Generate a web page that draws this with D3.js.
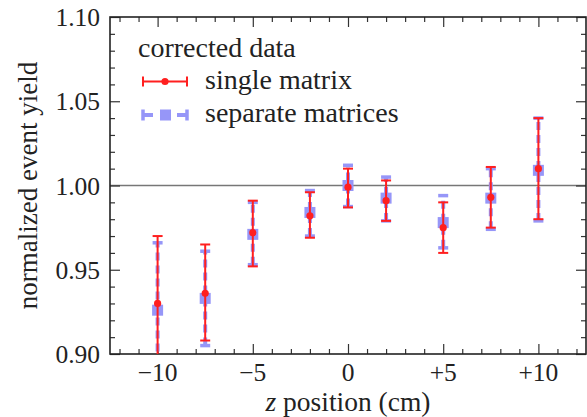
<html>
  <head>
    <script src="https://d3js.org/d3.v7.min.js"></script>
  </head>
  <body style="margin:0">
    <svg id="chart" width="587" height="417"></svg>
    <script>
      // data
      const zPos = [-10, -7.5, -5, -2, 0, 2, 5, 7.5, 10];
      const singleY  = [0.930, 0.936, 0.972, 0.982, 0.999, 0.991, 0.975, 0.993, 1.010];
      const singleLo = [0.888, 0.908, 0.952, 0.969, 0.987, 0.979, 0.960, 0.975, 0.980];
      const singleHi = [0.970, 0.965, 0.991, 0.996, 1.010, 1.003, 0.990, 1.011, 1.040];
      const sepY  = [0.926, 0.933, 0.971, 0.984, 1.000, 0.9925, 0.978, 0.9925, 1.009];
      const sepLo = [0.886, 0.905, 0.953, 0.970, 0.9875, 0.979, 0.963, 0.974, 0.979];
      const sepHi = [0.966, 0.961, 0.990, 0.997, 1.012, 1.005, 0.994, 1.010, 1.040];
      const xTicks = [-10, -5, 0, 5, 10];
      const xTickLabels = ['\u221210', '\u22125', '0', '+5', '+10'];
      const yTicks = [0.90, 0.95, 1.00, 1.05, 1.10];
      const yTickLabels = ['0.90', '0.95', '1.00', '1.05', '1.10'];
      const legendTitle = 'corrected data';
      const seriesNames = ['single matrix', 'separate matrices'];

      const svg = d3.select('svg#chart');
      const margins = {top: 17, right: 1, bottom: 63, left: 110};
      const width = +svg.attr('width');
      const height = +svg.attr('height');
      const chartWidth = width - margins.left - margins.right;
      const chartHeight = height - margins.top - margins.bottom;
      const font = 'Liberation Serif, DejaVu Serif, Times New Roman, serif';
      const red = '#ff1f1f';
      const blue = '#9696f8';

      svg.attr('font-family', font).attr('fill', '#222');

      const xScale = d3.scaleLinear().domain([-12.5, 12.5]).range([0, chartWidth]);
      const yScale = d3.scaleLinear().domain([0.90, 1.10]).range([chartHeight, 0]);

      let chartArea = svg.append('g')
        .attr('transform', `translate(${margins.left},${margins.top})`);

      svg.append('defs').append('clipPath').attr('id', 'clip')
        .append('rect').attr('width', chartWidth).attr('height', chartHeight);

      // reference line at 1
      chartArea.append('line')
        .attr('x1', 0).attr('x2', chartWidth)
        .attr('y1', yScale(1)).attr('y2', yScale(1))
        .attr('stroke', '#777').attr('stroke-width', 1.6);

      // ticks on all four sides, pointing in
      const minorX = d3.range(-12, 13, 1).filter(v => v % 5 !== 0);
      const minorY = d3.range(90, 111, 1).filter(v => v % 5 !== 0).map(v => v / 100);
      const tickAxes = [
        [d3.axisBottom(xScale).tickValues(xTicks).tickSize(-10), `translate(0,${chartHeight})`],
        [d3.axisBottom(xScale).tickValues(minorX).tickSize(-5), `translate(0,${chartHeight})`],
        [d3.axisTop(xScale).tickValues(xTicks).tickSize(-10), 'translate(0,0)'],
        [d3.axisTop(xScale).tickValues(minorX).tickSize(-5), 'translate(0,0)'],
        [d3.axisLeft(yScale).tickValues(yTicks).tickSize(-10), 'translate(0,0)'],
        [d3.axisLeft(yScale).tickValues(minorY).tickSize(-5), 'translate(0,0)'],
        [d3.axisRight(yScale).tickValues(yTicks).tickSize(-10), `translate(${chartWidth},0)`],
        [d3.axisRight(yScale).tickValues(minorY).tickSize(-5), `translate(${chartWidth},0)`]
      ];
      tickAxes.forEach(([ax, tr]) => {
        let g = chartArea.append('g').attr('class', 'ticks').attr('transform', tr)
          .call(ax.tickFormat(''));
        g.select('.domain').remove();
        g.selectAll('line').attr('stroke', '#333').attr('stroke-width', 1.2);
      });

      // tick labels
      xTicks.forEach((v, i) => {
        chartArea.append('text')
          .attr('x', xScale(v)).attr('y', chartHeight + 27)
          .attr('text-anchor', 'middle')
          .attr('font-family', font).attr('font-size', 25.5).attr('fill', '#222')
          .text(xTickLabels[i]);
      });
      yTicks.forEach((v, i) => {
        chartArea.append('text')
          .attr('x', -10).attr('y', yScale(v) + 9)
          .attr('text-anchor', 'end')
          .attr('font-family', font).attr('font-size', 25.5).attr('fill', '#222')
          .text(yTickLabels[i]);
      });

      // frame
      chartArea.append('rect')
        .attr('width', chartWidth).attr('height', chartHeight)
        .attr('fill', 'none').attr('stroke', '#222').attr('stroke-width', 1.6);

      // axis titles
      let xTitle = svg.append('text')
        .attr('x', margins.left + xScale(0)).attr('y', 411)
        .attr('text-anchor', 'middle')
        .attr('font-family', font).attr('font-size', 27.5).attr('fill', '#222');
      xTitle.append('tspan').attr('font-style', 'italic').text('z');
      xTitle.append('tspan').text(' position (cm)');

      svg.append('text')
        .attr('transform', `translate(37,${margins.top + yScale(1)}) rotate(-90)`)
        .attr('text-anchor', 'middle')
        .attr('font-family', font).attr('font-size', 27).attr('fill', '#222')
        .text('normalized event yield');

      // error bars
      let plot = chartArea.append('g').attr('clip-path', 'url(#clip)');
      const capW = 5;

      // separate matrices (blue, dashed)
      zPos.forEach((z, i) => {
        let x = xScale(z);
        plot.append('line')
          .attr('x1', x).attr('x2', x)
          .attr('y1', yScale(sepLo[i])).attr('y2', yScale(sepHi[i]))
          .attr('stroke', blue).attr('stroke-width', 4).attr('stroke-dasharray', '8,5');
        [sepLo[i], sepHi[i]].forEach(v => {
          plot.append('line')
            .attr('x1', x - capW).attr('x2', x + capW)
            .attr('y1', yScale(v)).attr('y2', yScale(v))
            .attr('stroke', blue).attr('stroke-width', 3.5);
        });
        plot.append('rect')
          .attr('x', x - 5.5).attr('y', yScale(sepY[i]) - 5.5)
          .attr('width', 11).attr('height', 11).attr('fill', blue);
      });

      // single matrix (red)
      zPos.forEach((z, i) => {
        let x = xScale(z);
        plot.append('line')
          .attr('x1', x).attr('x2', x)
          .attr('y1', yScale(singleLo[i])).attr('y2', yScale(singleHi[i]))
          .attr('stroke', red).attr('stroke-width', 2);
        [singleLo[i], singleHi[i]].forEach(v => {
          plot.append('line')
            .attr('x1', x - capW).attr('x2', x + capW)
            .attr('y1', yScale(v)).attr('y2', yScale(v))
            .attr('stroke', red).attr('stroke-width', 2);
        });
        plot.append('circle')
          .attr('cx', x).attr('cy', yScale(singleY[i]))
          .attr('r', 3.6).attr('fill', red);
      });

      // legend
      let legend = svg.append('g');
      legend.append('text')
        .attr('x', 138).attr('y', 57)
        .attr('font-family', font).attr('font-size', 28).attr('fill', '#222')
        .text(legendTitle);
      // single matrix entry
      legend.append('line').attr('x1', 143).attr('x2', 187).attr('y1', 81.5).attr('y2', 81.5)
        .attr('stroke', red).attr('stroke-width', 2);
      [143, 187].forEach(x => legend.append('line')
        .attr('x1', x).attr('x2', x).attr('y1', 76.5).attr('y2', 86.5)
        .attr('stroke', red).attr('stroke-width', 2));
      legend.append('circle').attr('cx', 165).attr('cy', 81.5).attr('r', 3.6).attr('fill', red);
      // separate matrices entry
      legend.append('line').attr('x1', 143).attr('x2', 187).attr('y1', 115).attr('y2', 115)
        .attr('stroke', blue).attr('stroke-width', 4).attr('stroke-dasharray', '10,7,10,7,10');
      [143, 187].forEach(x => legend.append('line')
        .attr('x1', x).attr('x2', x).attr('y1', 109.5).attr('y2', 120.5)
        .attr('stroke', blue).attr('stroke-width', 3.5));
      legend.append('rect').attr('x', 160).attr('y', 109.5).attr('width', 11).attr('height', 11)
        .attr('fill', blue);
      seriesNames.forEach((name, i) => {
        legend.append('text')
          .attr('x', 205).attr('y', [89, 122][i])
          .attr('font-family', font).attr('font-size', 28).attr('fill', '#222')
          .text(name);
      });
    </script>
  </body>
</html>
